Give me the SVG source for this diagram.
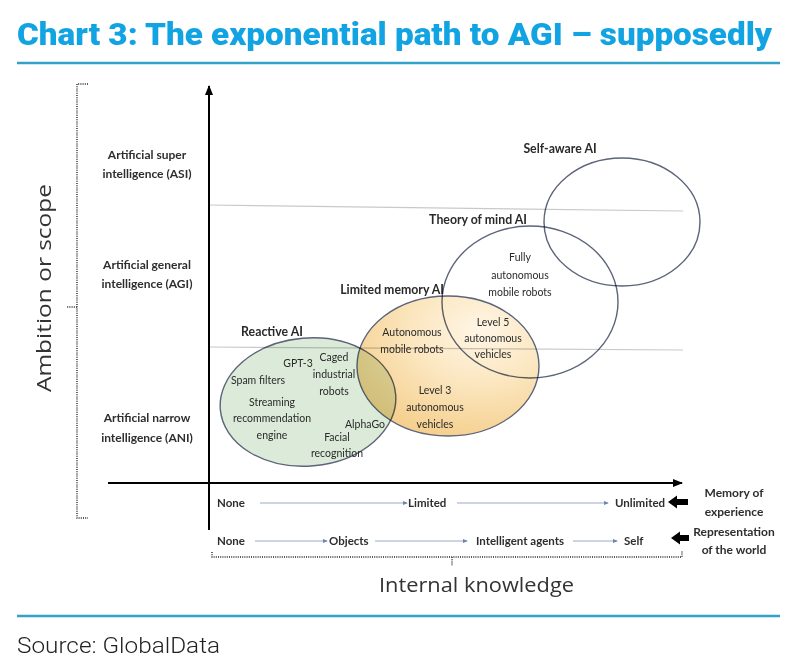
<svg xmlns="http://www.w3.org/2000/svg" width="800" height="668" viewBox="0 0 800 668">
<style>
.title{font-family:Roboto,"Liberation Sans",sans-serif;font-weight:900;font-size:32px;fill:#12a4e2}
.src{font-family:Roboto,"Liberation Sans",sans-serif;font-weight:300;font-size:22px;fill:#222}
.rule{stroke:#34a2c8;stroke-width:2.5}
.lvl{font-family:Lato,"Liberation Sans",sans-serif;font-weight:700;font-size:12px;fill:#2e2e2e;text-anchor:middle}
.hd{font-family:Lato,"Liberation Sans",sans-serif;font-weight:700;font-size:12.3px;fill:#2a2a2a;text-anchor:middle}
.it{font-family:Lato,"Liberation Sans",sans-serif;font-weight:400;font-size:10.5px;fill:#2a2a2a;text-anchor:middle}
.row{font-family:Lato,"Liberation Sans",sans-serif;font-weight:700;font-size:11.5px;fill:#2e2e2e}
.big{font-family:"Open Sans","DejaVu Sans",sans-serif;font-weight:400;font-size:20px;fill:#333}
.axis{stroke:#000;stroke-width:2;fill:none}
.grid{stroke:#c9c9c9;stroke-width:1.2}
.dot{stroke:#222;stroke-width:1.4;stroke-dasharray:1 1.2;fill:none}
.flow{stroke:#9aabc9;stroke-width:1;marker-end:url(#sm)}
.ell{stroke:#5c6479;stroke-width:1.4;mix-blend-mode:multiply}
</style>
<defs>
<marker id="ah" viewBox="0 0 10 8" refX="9" refY="4" markerWidth="5" markerHeight="4" orient="auto" markerUnits="strokeWidth"><path d="M0,0 L10,4 L0,8 z" fill="#000"/></marker>
<marker id="sm" viewBox="0 0 6 6" refX="5" refY="3" markerWidth="5" markerHeight="5" orient="auto" markerUnits="userSpaceOnUse"><path d="M0,0.5 L6,3 L0,5.5 z" fill="#6b84b5"/></marker>
<radialGradient id="og" cx="0.68" cy="0.25" r="0.85">
<stop offset="0" stop-color="#fff6e6"/>
<stop offset="0.45" stop-color="#fbe6bf"/>
<stop offset="1" stop-color="#f4cc86"/>
</radialGradient>
</defs>
<rect width="800" height="668" fill="#fff"/>
<text class="title" x="17" y="45" textLength="755" lengthAdjust="spacingAndGlyphs">Chart 3: The exponential path to AGI – supposedly</text>
<line class="rule" x1="17" y1="63" x2="780" y2="63"/>
<line class="rule" x1="17" y1="616" x2="780" y2="616"/>
<text class="src" x="17" y="653" textLength="203" lengthAdjust="spacingAndGlyphs">Source: GlobalData</text>

<g id="gridlines">
<line class="grid" x1="209" y1="205" x2="683" y2="211"/>
<line class="grid" x1="209" y1="347" x2="683" y2="350"/>
</g>

<g id="axes">
<line class="axis" x1="209" y1="530" x2="209" y2="86" marker-end="url(#ah)"/>
<line class="axis" x1="108" y1="483" x2="682" y2="483" marker-end="url(#ah)"/>
<path class="dot" d="M88,84 H77 V518 H88 M77,307 H67"/>
<path class="dot" d="M212,552 V557 H682 V551 M452,557 V566"/>
<text class="big" transform="translate(51,392) rotate(-90)" textLength="208" lengthAdjust="spacingAndGlyphs">Ambition or scope</text>
<text class="big" x="379" y="592" textLength="195" lengthAdjust="spacingAndGlyphs">Internal knowledge</text>
</g>

<g id="levels">
<text class="lvl" x="147" y="159">Artificial super</text>
<text class="lvl" x="147" y="178">intelligence (ASI)</text>
<text class="lvl" x="147" y="269">Artificial general</text>
<text class="lvl" x="147" y="288">intelligence (AGI)</text>
<text class="lvl" x="147" y="422">Artificial narrow</text>
<text class="lvl" x="147" y="442">intelligence (ANI)</text>
</g>

<g id="node-reactive">
<ellipse class="ell" cx="308" cy="402" rx="88" ry="64" transform="rotate(-5 308 402)" fill="#dcebd9"/>
<text class="hd" x="272" y="336">Reactive AI</text>
<text class="it" x="298" y="367">GPT-3</text>
<text class="it" x="334" y="361">Caged</text>
<text class="it" x="334" y="378">industrial</text>
<text class="it" x="334" y="395">robots</text>
<text class="it" x="258" y="384">Spam filters</text>
<text class="it" x="272" y="406">Streaming</text>
<text class="it" x="272" y="422">recommendation</text>
<text class="it" x="272" y="439">engine</text>
<text class="it" x="365" y="428">AlphaGo</text>
<text class="it" x="337" y="441">Facial</text>
<text class="it" x="337" y="457">recognition</text>
</g>

<g id="node-limited">
<ellipse class="ell" cx="448" cy="366" rx="91" ry="70" fill="url(#og)"/>
<text class="hd" x="392" y="294">Limited memory AI</text>
<text class="it" x="412" y="336">Autonomous</text>
<text class="it" x="412" y="353">mobile robots</text>
<text class="it" x="435" y="394">Level 3</text>
<text class="it" x="435" y="411">autonomous</text>
<text class="it" x="435" y="428">vehicles</text>
</g>

<g id="node-theory">
<ellipse class="ell" cx="530" cy="302" rx="88" ry="76" fill="none"/>
<text class="hd" x="478" y="224">Theory of mind AI</text>
<text class="it" x="520" y="261">Fully</text>
<text class="it" x="520" y="279">autonomous</text>
<text class="it" x="520" y="296">mobile robots</text>
<text class="it" x="493" y="326">Level 5</text>
<text class="it" x="493" y="342">autonomous</text>
<text class="it" x="493" y="358">vehicles</text>
</g>

<g id="node-self">
<ellipse class="ell" cx="622" cy="222" rx="78" ry="64" fill="none"/>
<text class="hd" x="560" y="153">Self-aware AI</text>
</g>

<g id="connectors">
<line class="flow" x1="260" y1="503" x2="407" y2="503"/>
<line class="flow" x1="457" y1="503" x2="608" y2="503"/>
<line class="flow" x1="255" y1="541" x2="327" y2="541"/>
<line class="flow" x1="375" y1="541" x2="467" y2="541"/>
<line class="flow" x1="573" y1="541" x2="617" y2="541"/>
<path d="M668,502 L677,495.5 V499 H688 V505 H677 V508.5 Z" fill="#000"/>
<path d="M671,538 L680,531.5 V535 H689 V541 H680 V544.5 Z" fill="#000"/>
</g>

<g id="scales">
<text class="row" x="217" y="507">None</text>
<text class="row" x="408" y="507">Limited</text>
<text class="row" x="615" y="507">Unlimited</text>
<text class="row" x="217" y="545">None</text>
<text class="row" x="329" y="545">Objects</text>
<text class="row" x="476" y="545">Intelligent agents</text>
<text class="row" x="624" y="545">Self</text>
<text class="lvl" x="734" y="497">Memory of</text>
<text class="lvl" x="734" y="516">experience</text>
<text class="lvl" x="734" y="536">Representation</text>
<text class="lvl" x="734" y="554">of the world</text>
</g>
</svg>
